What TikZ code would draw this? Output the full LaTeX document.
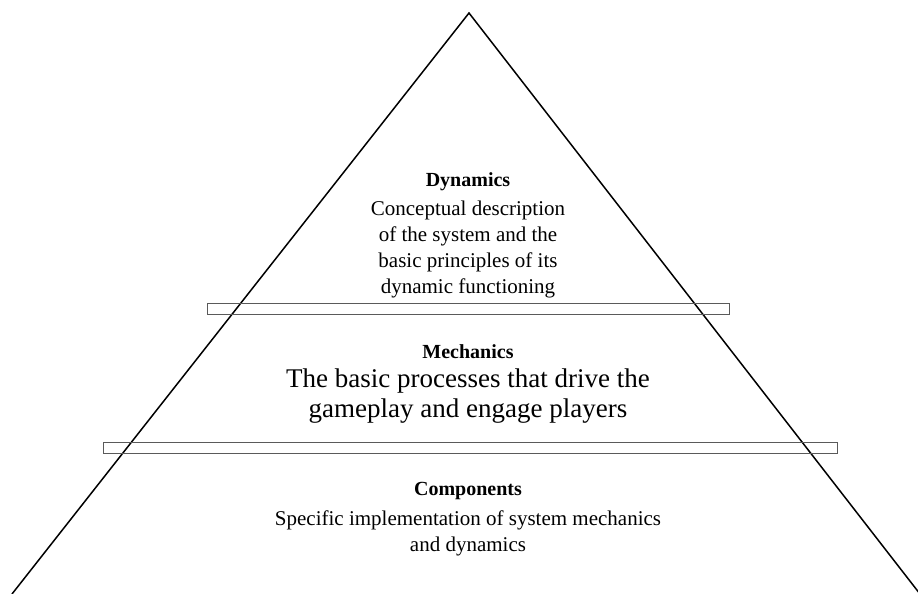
\documentclass[tikz,border=0pt]{standalone}
\usepackage{fontspec}
\setmainfont{Liberation Serif}
\usepackage{tikz}
\usetikzlibrary{positioning, calc}
\definecolor{bargray}{RGB}{90, 90, 90}

\begin{document}
\begin{tikzpicture}[x=1pt, y=-1pt,
        title/.style={font=\fontsize{20}{24}\selectfont\bfseries, inner sep=0pt},
        body/.style={align=center, inner sep=0pt, font=\fontsize{21}{26}\selectfont},
        bar/.style={draw=bargray, line width=1pt, fill=none, inner sep=0pt, minimum height=11pt}]
    \useasboundingbox (0,0) rectangle (918,594);
    % pyramid outline
    \coordinate (apex) at (469,13);
    \coordinate (baseL) at (12,594);
    \coordinate (baseR) at (920,594);
    \draw[line width=1.5pt] (baseL) -- (apex) -- (baseR);
    % separators
    \node[bar, minimum width=522pt] (topbar) at (468,308.5) {};
    \node[bar, minimum width=734pt] (lowbar) at (470,448) {};
    % levels
    \node[title] (dyn) at (468,182) {Dynamics};
    \node[body] (dyntext) at (468,249) {Conceptual description\\of the system and the\\basic principles of its\\dynamic functioning};
    \node[title] (mech) at (468,352) {Mechanics};
    \node[body, font=\fontsize{27}{30}\selectfont] (mechtext) at (468,396) {The basic processes that drive the\\gameplay and engage players};
    \node[title] (comp) at (468,491) {Components};
    \node[body] (comptext) at (468,533) {Specific implementation of system mechanics\\and dynamics};
\end{tikzpicture}
\end{document}
